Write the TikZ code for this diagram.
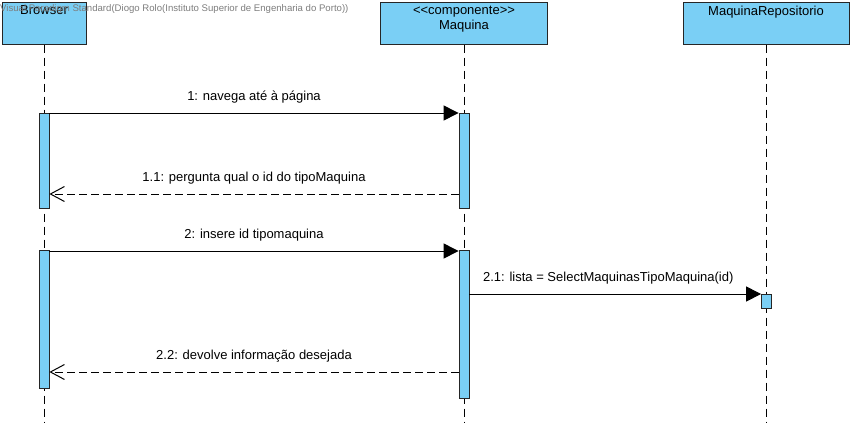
\documentclass[tikz,border=0pt]{standalone}
\usepackage{fontspec}
\setmainfont{Liberation Sans}
\usetikzlibrary{arrows.meta}
\definecolor{vpblue}{RGB}{122,207,245}
\definecolor{wmgray}{RGB}{125,125,125}
\tikzset{
  headbox/.style={draw=black!85, fill=vpblue, line width=1pt, inner sep=0pt},
  headtext/.style={anchor=north, inner sep=0pt, font=\fontsize{13}{15}\selectfont, align=center},
  actbar/.style={draw=black!85, fill=vpblue, line width=0.8pt, inner sep=0pt, minimum width=10pt},
  lifeline/.style={draw=black, line width=1pt, dash pattern=on 8pt off 5pt},
  callmsg/.style={draw=black, line width=1pt, -{Triangle[length=15pt,width=15pt]}},
  retmsg/.style={draw=black, line width=1pt, dash pattern=on 8pt off 4pt, -{Straight Barb[length=14pt,width=15pt,line width=1pt]}},
  msglabel/.style={inner sep=0pt, font=\fontsize{13}{15}\selectfont},
}
\begin{document}
\begin{tikzpicture}[x=1pt,y=-1pt]
\useasboundingbox (0,0) rectangle (856,426);
% heads
\node[headbox, minimum width=84pt, minimum height=42pt] (browser) at (44,23) {};
\node[headbox, minimum width=167pt, minimum height=42pt] (maquina) at (464,23) {};
\node[headbox, minimum width=166pt, minimum height=42pt] (repo) at (766,23) {};
\node[headtext] (browsert) at ([yshift=-4pt]browser.north) {Browser};
\node[headtext] (maquinat) at ([yshift=-4pt]maquina.north) {{<}{<}componente{>}{>}\\Maquina};
\node[headtext] (repot) at ([yshift=-4pt]repo.north) {MaquinaRepositorio};
% lifeline ends
\coordinate (bend) at (44,422);
\coordinate (mend) at (464,422);
\coordinate (rend) at (766,422);
\draw[lifeline] (browser.south) -- (bend);
\draw[lifeline] (maquina.south) -- (mend);
\draw[lifeline] (repo.south) -- (rend);
% activation bars
\node[actbar, minimum height=95pt, anchor=north] (b1) at (44,113) {};
\node[actbar, minimum height=95pt, anchor=north] (m1) at (464,113) {};
\node[actbar, minimum height=138pt, anchor=north] (b2) at (44,250) {};
\node[actbar, minimum height=148pt, anchor=north] (m2) at (464,250) {};
\node[actbar, minimum height=14pt, anchor=north] (r1) at (766.5,294) {};
% messages
\draw[callmsg] (b1.north east) -- (m1.north west)
  node[msglabel, midway, above=9pt] (l1) {1: navega até à página};
\coordinate (m1r) at (m1.west |- 0,194);
\coordinate (b1r) at (b1.east |- 0,194);
\draw[retmsg] (m1r) -- (b1r)
  node[msglabel, midway, above=9pt] (l11) {1.1: pergunta qual o id do tipoMaquina};
\draw[callmsg] ([yshift=-1pt]b2.north east) -- ([yshift=-1pt]m2.north west)
  node[msglabel, midway, above=9pt] (l2) {2: insere id tipomaquina};
\coordinate (m2c) at (m2.east |- r1.north);
\draw[callmsg] (m2c) -- (r1.north west)
  node[msglabel, midway, above=9pt, xshift=-7pt] (l21) {2.1: lista = SelectMaquinasTipoMaquina(id)};
\coordinate (m2r) at (m2.west |- 0,372);
\coordinate (b2r) at (b2.east |- 0,372);
\draw[retmsg] (m2r) -- (b2r)
  node[msglabel, midway, above=9pt] (l22) {2.2: devolve informação desejada};
% watermark
\node[anchor=west, inner sep=0pt, text=wmgray, font=\fontsize{9.6}{11}\selectfont] (wm) at (0,9) {Visual Paradigm Standard(Diogo Rolo(Instituto Superior de Engenharia do Porto))};
\end{tikzpicture}
\end{document}
